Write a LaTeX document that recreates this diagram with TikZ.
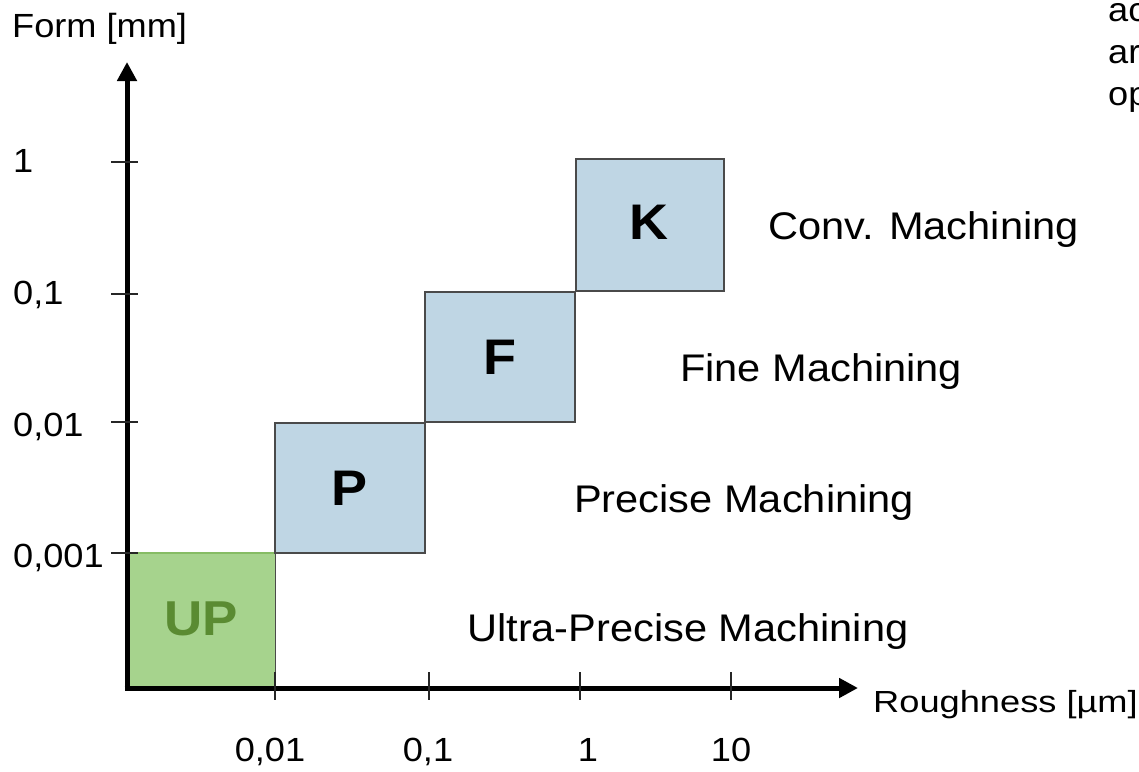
\documentclass[tikz,border=0pt]{standalone}
\usepackage{fontspec}
\setmainfont[FakeStretch=1.08]{Liberation Sans}
\usetikzlibrary{arrows.meta}
\definecolor{boxblue}{HTML}{BFD6E4}
\definecolor{boxedge}{HTML}{4A4A4A}
\definecolor{upgreen}{HTML}{A6D38D}
\definecolor{upedge}{HTML}{86BC64}
\definecolor{uptext}{HTML}{5A8B32}
\tikzset{
  axisline/.style={line width=5pt, -{Triangle[length=19pt,width=19pt]}},
  tickline/.style={line width=1.1pt, black!85},
  regionbox/.style={draw=boxedge, line width=1.3pt, fill=boxblue, inner sep=0pt,
    font=\fontsize{50}{50}\selectfont\bfseries},
  upbox/.style={fill=upgreen, inner sep=0pt, text=uptext,
    font=\fontsize{49}{49}\selectfont\bfseries},
  ticklabel/.style={inner sep=0pt, font=\fontsize{33.5}{36}\selectfont},
  classlabel/.style={inner sep=0pt, anchor=base west, font=\fontsize{38.5}{40}\selectfont},
}
\begin{document}
\begin{tikzpicture}[x=1pt,y=-1pt]
\clip (0,0) rectangle (1139,771);
\fill[white] (0,0) rectangle (1139,771);

% region boxes
\node[upbox, minimum width=147pt, minimum height=135pt] (UP) at (201.5,620.5) {\raisebox{4pt}{UP}};
\draw[upedge, line width=1.5pt] (UP.north west) -- (UP.north east);
\draw[boxedge, line width=1.3pt] (UP.north east) -- (UP.south east);
\node[regionbox, minimum width=150pt, minimum height=130pt] (P) at (350,488) {P};
\node[regionbox, minimum width=150pt, minimum height=130pt] (F) at (500,357) {F};
\node[regionbox, minimum width=148pt, minimum height=132pt] (K) at (650,225) {\raisebox{5pt}{\hspace{-3pt}K}};

% axes
\coordinate (O) at (127,690.5);
\coordinate (Ytip) at (127,62);
\coordinate (Oh) at (124.5,688);
\coordinate (Xtip) at (858,688);
\draw[axisline] (O) -- (Ytip);
\draw[axisline] (Oh) -- (Xtip);

% y ticks
\foreach \yy/\nm in {162/ya,294/yb,422/yc,553/yd}{
  \coordinate (\nm l) at (111,\yy);
  \coordinate (\nm r) at (138,\yy);
  \draw[tickline] (\nm l) -- (\nm r);
}
% x ticks
\foreach \xx/\nm in {275/xa,429/xb,580/xc,731/xd}{
  \coordinate (\nm t) at (\xx,672);
  \coordinate (\nm b) at (\xx,700);
  \draw[tickline] (\nm t) -- (\nm b);
}

% axis titles
\node[ticklabel, anchor=base west] (ytitle) at (12,37) {Form [mm]};
\node[inner sep=0pt, anchor=base west, font=\fontsize{30.5}{33}\selectfont] (xtitle) at (873,712) {\scalebox{1.1}[1]{Roughness [µm]}};

% y tick labels
\node[ticklabel, anchor=base west] (yla) at (13,172) {1};
\node[ticklabel, anchor=base west] (ylb) at (13,304) {0,1};
\node[ticklabel, anchor=base west] (ylc) at (13,436) {0,01};
\node[ticklabel, anchor=base west] (yld) at (13,567) {0,001};

% x tick labels
\node[ticklabel, anchor=base] (xla) at (270,761) {0,01};
\node[ticklabel, anchor=base] (xlb) at (428,761) {0,1};
\node[ticklabel, anchor=base] (xlc) at (588,761) {1};
\node[ticklabel, anchor=base] (xld) at (731,761) {10};

% class labels
\node[classlabel] (conv) at (768,239) {Conv. Machining};
\node[classlabel] (fine) at (680,381) {Fine Machining};
\node[classlabel] (prec) at (574,512) {Precise Machining};
\node[classlabel] (ultra) at (467,641) {Ultra-Precise Machining};

% text cut off by the right edge, as in the reference
\node[ticklabel, anchor=base west] (cut1) at (1108,21) {ac};
\node[ticklabel, anchor=base west] (cut2) at (1108,63) {ar};
\node[ticklabel, anchor=base west] (cut3) at (1108,105) {op};
\end{tikzpicture}
\end{document}
